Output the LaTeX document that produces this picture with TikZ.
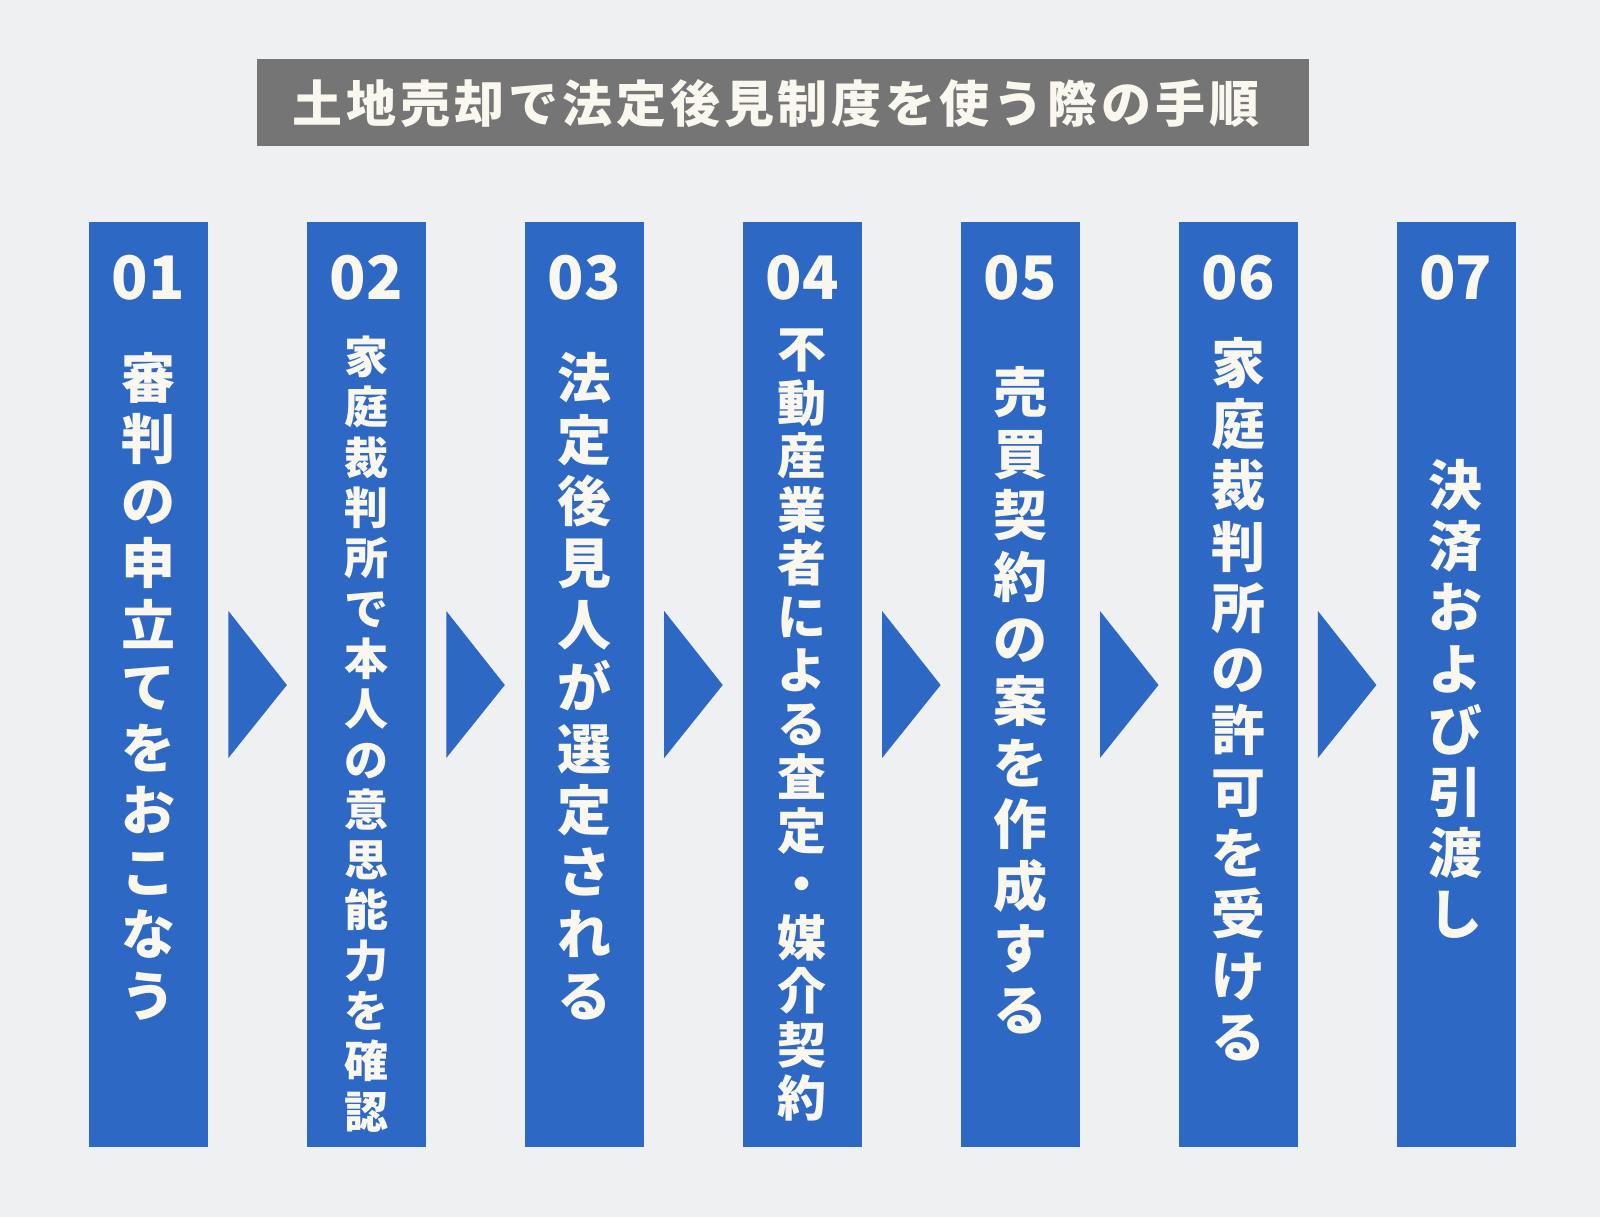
\documentclass[tikz,border=0pt]{standalone}
\usepackage{fontspec}
\usetikzlibrary{calc}
\newfontfamily\jp{Noto Sans CJK JP}
\newfontfamily\jptitle{Noto Sans CJK JP}[LetterSpace=7.8]
\definecolor{bgc}{HTML}{EFF0F2}
\definecolor{boxblue}{HTML}{2D68C4}
\definecolor{bargray}{HTML}{757575}
\definecolor{cream}{HTML}{FAF7EE}
\tikzset{
  stepbox/.style={fill=boxblue, draw=none, minimum width=119pt, minimum height=925pt, inner sep=0pt, anchor=north west},
  numtext/.style={text=cream, inner sep=0pt, font=\jp\bfseries\fontsize{60}{60}\selectfont},
  vtext/.style={text=cream, inner sep=0pt, align=center},
  arrowtri/.style={fill=boxblue, draw=none},
}
\begin{document}
\begin{tikzpicture}[x=1pt, y=-1pt]
\useasboundingbox (0,0) rectangle (1600,1217);
\fill[bgc] (0,0) rectangle (1600,1217);
% title
\node[fill=bargray, minimum width=1052pt, minimum height=87pt, inner sep=0pt, anchor=north west] (bar) at (257,59) {};
\node[text=cream, inner sep=0pt, font=\jptitle\bfseries\fontsize{50}{50}\selectfont] (title) at (776,104) {土地売却で法定後見制度を使う際の手順};
% boxes
\foreach \i in {1,...,7}{
  \node[stepbox] (b\i) at ({89+(\i-1)*217.9},222) {};
  \node[numtext] (n\i) at ({148.5+(\i-1)*217.9},278) {0\i};
}
% arrows
\foreach \i [evaluate=\i as \j using int(\i+1)] in {1,...,6}{
  \fill[arrowtri] ($(b\i.north east)+(20,389)$) -- ($(b\j.north west)+(-20,463)$) -- ($(b\i.north east)+(20,536)$) -- cycle;
}
% texts
\node[vtext, font=\jp\bfseries\fontsize{54}{61.8}\selectfont] (t1) at (148.5,686) {審\\判\\の\\申\\立\\て\\を\\お\\こ\\な\\う};
\node[vtext, font=\jp\bfseries\fontsize{44}{50.3}\selectfont] (t2) at (366.4,734) {家\\庭\\裁\\判\\所\\で\\本\\人\\の\\意\\思\\能\\力\\を\\確\\認};
\node[vtext, font=\jp\bfseries\fontsize{54}{61.8}\selectfont] (t3) at (584.3,686) {法\\定\\後\\見\\人\\が\\選\\定\\さ\\れ\\る};
\node[vtext, font=\jp\bfseries\fontsize{49}{53.5}\selectfont] (t4) at (802.2,725) {不\\動\\産\\業\\者\\に\\よ\\る\\査\\定\\・\\媒\\介\\契\\約};
\node[vtext, font=\jp\bfseries\fontsize{54}{61.8}\selectfont] (t5) at (1020.1,700) {売\\買\\契\\約\\の\\案\\を\\作\\成\\す\\る};
\node[vtext, font=\jp\bfseries\fontsize{54}{61.3}\selectfont] (t6) at (1238.0,699) {家\\庭\\裁\\判\\所\\の\\許\\可\\を\\受\\け\\る};
\node[vtext, font=\jp\bfseries\fontsize{54}{61.4}\selectfont] (t7) at (1455.9,699) {決\\済\\お\\よ\\び\\引\\渡\\し};
\end{tikzpicture}
\end{document}
